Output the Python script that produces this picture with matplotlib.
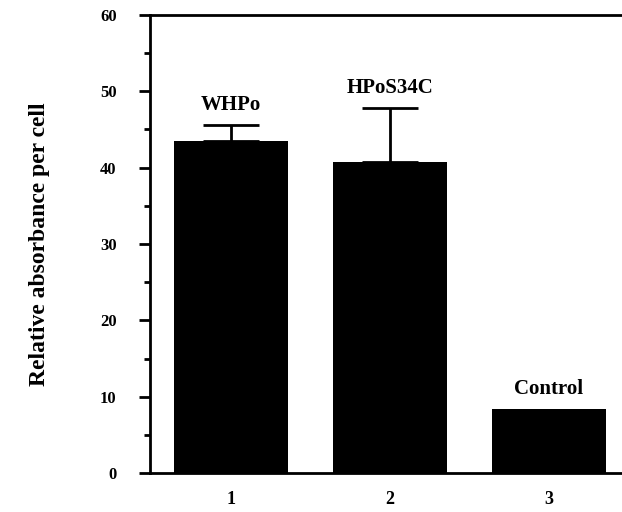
import matplotlib
matplotlib.use("Agg")
import matplotlib.pyplot as plt
from matplotlib.ticker import MultipleLocator

# values
groups = [1, 2, 3]
values = [43.5, 40.7, 8.4]
err_up = [2.1, 7.1, 0.0]
names = ['WHPo', 'HPoS34C', 'Control']

plt.rcParams['font.family'] = ['Liberation Serif', 'DejaVu Serif']
plt.rcParams['font.weight'] = 'bold'

fig = plt.figure(figsize=(6.22, 5.12), dpi=100)
ax = fig.add_axes([0.241, 0.076, 0.759, 0.895])

ax.bar(groups, values, width=0.72, color='black', zorder=2)
ax.errorbar(groups[:2], values[:2], yerr=[[0, 0], err_up[:2]], fmt='none',
            ecolor='black', elinewidth=2, capsize=20, capthick=2, zorder=1)

for g, v, e, n in zip(groups, values, err_up, names):
    ax.text(g, v + e + 1.3, n, ha='center', va='bottom',
            fontsize=15, fontweight='bold')

ax.set_xlim(0.49, 3.46)
ax.set_ylim(0, 60)
ax.set_xticks(groups)
ax.set_xticklabels([str(g) for g in groups])
ax.yaxis.set_major_locator(MultipleLocator(10))
ax.yaxis.set_minor_locator(MultipleLocator(5))

ax.spines['right'].set_visible(False)
for s in ['left', 'top', 'bottom']:
    ax.spines[s].set_linewidth(2)

ax.tick_params(axis='y', which='major', direction='out', length=8, width=2,
               pad=16, labelsize=12)
ax.tick_params(axis='y', which='minor', direction='out', length=4, width=2)
ax.tick_params(axis='x', length=0, pad=13, labelsize=13)

ax.set_ylabel('Relative absorbance per cell', fontsize=17, fontweight='bold',
              labelpad=36)

fig.savefig('out.png', dpi=100)
